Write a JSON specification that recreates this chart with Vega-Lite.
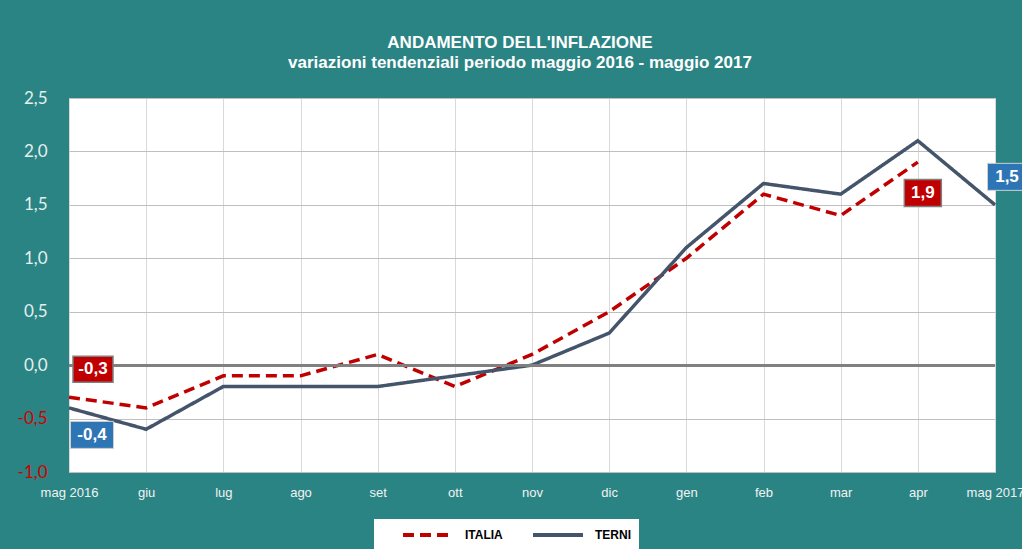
{
  "$schema": "https://vega.github.io/schema/vega-lite/v6.json",
  "width": 926,
  "height": 374,
  "autosize": {"type": "none"},
  "padding": {"left": 69, "top": 98, "right": 27, "bottom": 77},
  "background": "#2b8484",
  "config": {
    "locale": {"number": {"decimal": ",", "thousands": ".", "grouping": [3], "currency": ["", " €"], "minus": "-"}},
    "view": {"fill": "white", "stroke": "#bfbfbf"},
    "axisX": {"grid": true, "gridColor": "#d9d9d9", "ticks": false, "domain": false, "labelColor": "#f2f2f2", "labelFont": "Liberation Sans", "labelFontSize": 13, "labelPadding": 14, "labelAngle": 0, "labelOverlap": false, "labelBound": false},
    "axisY": {"grid": true, "gridColor": "#bfbfbf", "ticks": false, "domain": false, "labelFont": "Lato", "labelFontSize": 17, "labelPadding": 22, "labelOverlap": false}
  },
  "title": {
    "text": ["ANDAMENTO DELL'INFLAZIONE", "variazioni tendenziali periodo maggio 2016 - maggio 2017"],
    "color": "white",
    "font": "Liberation Sans",
    "fontSize": 17,
    "fontWeight": "bold",
    "lineHeight": 20,
    "anchor": "middle",
    "offset": 17,
    "dx": -12
  },
  "data": {
    "values": [
      {"mese": "mag 2016", "serie": "ITALIA", "valore": -0.3},
      {"mese": "giu", "serie": "ITALIA", "valore": -0.4},
      {"mese": "lug", "serie": "ITALIA", "valore": -0.1},
      {"mese": "ago", "serie": "ITALIA", "valore": -0.1},
      {"mese": "set", "serie": "ITALIA", "valore": 0.1},
      {"mese": "ott", "serie": "ITALIA", "valore": -0.2},
      {"mese": "nov", "serie": "ITALIA", "valore": 0.1},
      {"mese": "dic", "serie": "ITALIA", "valore": 0.5},
      {"mese": "gen", "serie": "ITALIA", "valore": 1.0},
      {"mese": "feb", "serie": "ITALIA", "valore": 1.6},
      {"mese": "mar", "serie": "ITALIA", "valore": 1.4},
      {"mese": "apr", "serie": "ITALIA", "valore": 1.9},
      {"mese": "mag 2016", "serie": "TERNI", "valore": -0.4},
      {"mese": "giu", "serie": "TERNI", "valore": -0.6},
      {"mese": "lug", "serie": "TERNI", "valore": -0.2},
      {"mese": "ago", "serie": "TERNI", "valore": -0.2},
      {"mese": "set", "serie": "TERNI", "valore": -0.2},
      {"mese": "ott", "serie": "TERNI", "valore": -0.1},
      {"mese": "nov", "serie": "TERNI", "valore": 0.0},
      {"mese": "dic", "serie": "TERNI", "valore": 0.3},
      {"mese": "gen", "serie": "TERNI", "valore": 1.1},
      {"mese": "feb", "serie": "TERNI", "valore": 1.7},
      {"mese": "mar", "serie": "TERNI", "valore": 1.6},
      {"mese": "apr", "serie": "TERNI", "valore": 2.1},
      {"mese": "mag 2017", "serie": "TERNI", "valore": 1.5}
    ]
  },
  "layer": [
    {
      "mark": {"type": "line", "strokeWidth": 3.5},
      "encoding": {
        "x": {"field": "mese", "type": "ordinal", "title": null, "scale": {"type": "point", "padding": 0, "domain": ["mag 2016", "giu", "lug", "ago", "set", "ott", "nov", "dic", "gen", "feb", "mar", "apr", "mag 2017"]}},
        "y": {"field": "valore", "type": "quantitative", "title": null, "scale": {"domain": [-1, 2.5], "nice": false, "zero": false},
              "axis": {"values": [-1, -0.5, 0, 0.5, 1, 1.5, 2, 2.5], "format": ".1f", "labelColor": {"condition": {"test": "datum.value < 0", "value": "#d00000"}, "value": "#e2f0ee"}}},
        "color": {"field": "serie", "type": "nominal", "title": null, "scale": {"domain": ["ITALIA", "TERNI"], "range": ["#c00000", "#44546a"]},
                  "legend": {"orient": "none", "legendX": 305, "legendY": 421, "direction": "horizontal", "fillColor": "white", "padding": 8, "clipHeight": 16, "symbolOffset": 19, "labelFont": "Liberation Sans", "labelFontWeight": "bold", "labelFontSize": 12, "labelColor": "black", "symbolType": "stroke", "symbolSize": 2500, "symbolStrokeWidth": 4, "labelOffset": 10, "columnPadding": 9, "labelExpr": "datum.label == 'TERNI' ? 'TERNI\u00a0\u00a0\u00a0\u00a0\u00a0\u00a0\u00a0\u00a0\u00a0\u00a0\u00a0\u00a0\u00a0' : datum.label"}},
        "strokeDash": {"field": "serie", "type": "nominal", "title": null, "scale": {"domain": ["ITALIA", "TERNI"], "range": [[11, 6], [1, 0]]},
                  "legend": {"orient": "none", "legendX": 305, "legendY": 421, "direction": "horizontal", "fillColor": "white", "padding": 8, "clipHeight": 16, "symbolOffset": 19, "labelFont": "Liberation Sans", "labelFontWeight": "bold", "labelFontSize": 12, "labelColor": "black", "symbolType": "stroke", "symbolSize": 2500, "symbolStrokeWidth": 4, "labelOffset": 10, "columnPadding": 9, "labelExpr": "datum.label == 'TERNI' ? 'TERNI\u00a0\u00a0\u00a0\u00a0\u00a0\u00a0\u00a0\u00a0\u00a0\u00a0\u00a0\u00a0\u00a0' : datum.label"}}
      }
    },
    {
      "mark": {"type": "rule", "color": "#808080", "strokeWidth": 2},
      "encoding": {"y": {"datum": 0, "type": "quantitative", "title": null}}
    },
    {
      "transform": [{"filter": "datum.serie == 'ITALIA' && datum.mese == 'mag 2016'"}],
      "encoding": {
        "x": {"field": "mese", "type": "ordinal", "title": null},
        "y": {"field": "valore", "type": "quantitative", "title": null}
      },
      "layer": [
        {"mark": {"type": "rect", "width": 40, "height": 26, "xOffset": 24, "yOffset": -28, "fill": "#c00000", "stroke": "#7f7f7f", "strokeWidth": 1.5}},
        {"mark": {"type": "text", "xOffset": 24, "yOffset": -28, "color": "white", "font": "Liberation Sans", "fontWeight": "bold", "fontSize": 17}, "encoding": {"text": {"field": "valore", "type": "quantitative", "format": ".1f"}}}
      ]
    },
    {
      "transform": [{"filter": "datum.serie == 'TERNI' && datum.mese == 'mag 2016'"}],
      "encoding": {
        "x": {"field": "mese", "type": "ordinal", "title": null},
        "y": {"field": "valore", "type": "quantitative", "title": null}
      },
      "layer": [
        {"mark": {"type": "rect", "width": 43, "height": 27, "xOffset": 23, "yOffset": 27, "fill": "#2e75b6", "stroke": "#d0d0d0", "strokeWidth": 1}},
        {"mark": {"type": "text", "xOffset": 23, "yOffset": 27, "color": "white", "font": "Liberation Sans", "fontWeight": "bold", "fontSize": 17}, "encoding": {"text": {"field": "valore", "type": "quantitative", "format": ".1f"}}}
      ]
    },
    {
      "transform": [{"filter": "datum.serie == 'ITALIA' && datum.mese == 'apr'"}],
      "encoding": {
        "x": {"field": "mese", "type": "ordinal", "title": null},
        "y": {"field": "valore", "type": "quantitative", "title": null}
      },
      "layer": [
        {"mark": {"type": "rect", "width": 37, "height": 27, "xOffset": 5, "yOffset": 31, "fill": "#c00000", "stroke": "#7f7f7f", "strokeWidth": 1.5}},
        {"mark": {"type": "text", "xOffset": 5, "yOffset": 31, "color": "white", "font": "Liberation Sans", "fontWeight": "bold", "fontSize": 17}, "encoding": {"text": {"field": "valore", "type": "quantitative", "format": ".1f"}}}
      ]
    },
    {
      "transform": [{"filter": "datum.serie == 'TERNI' && datum.mese == 'mag 2017'"}],
      "encoding": {
        "x": {"field": "mese", "type": "ordinal", "title": null},
        "y": {"field": "valore", "type": "quantitative", "title": null}
      },
      "layer": [
        {"mark": {"type": "rect", "width": 39, "height": 27, "xOffset": 12, "yOffset": -28, "fill": "#2e75b6", "stroke": "#d0d0d0", "strokeWidth": 1}},
        {"mark": {"type": "text", "xOffset": 12, "yOffset": -28, "color": "white", "font": "Liberation Sans", "fontWeight": "bold", "fontSize": 17}, "encoding": {"text": {"field": "valore", "type": "quantitative", "format": ".1f"}}}
      ]
    }
  ]
}
